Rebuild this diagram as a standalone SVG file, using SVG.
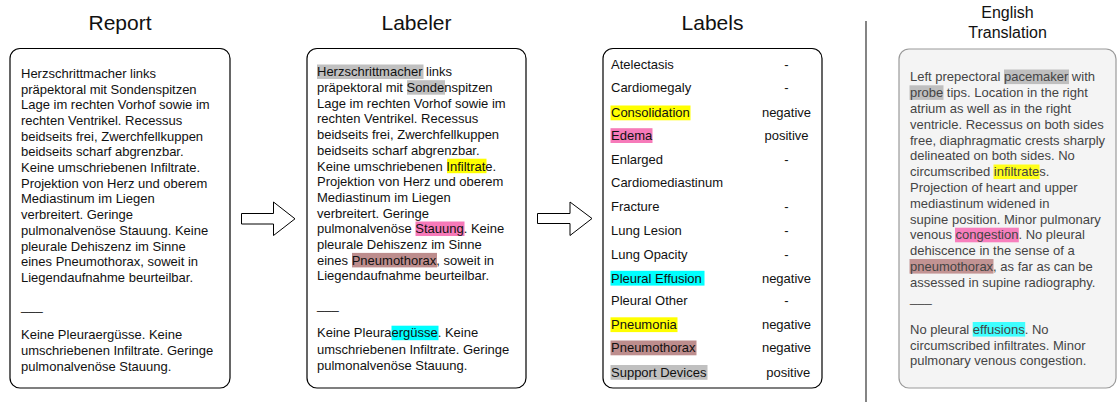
<svg xmlns="http://www.w3.org/2000/svg" width="1117" height="412" viewBox="0 0 1117 412">
  <style>
    .title { font-family: "Liberation Sans", Arial, sans-serif; font-size: 21px; fill: #111; text-anchor: middle; }
    .title2 { font-family: "Liberation Sans", Arial, sans-serif; font-size: 16px; fill: #111; text-anchor: middle; }
    .box { fill: #ffffff; stroke: #000; stroke-width: 1.2; }
    .box-tr { fill: #f4f4f4; stroke: #9a9a9a; stroke-width: 1.2; }
    .t { font-family: "Liberation Sans", Arial, sans-serif; font-size: 13px; fill: #111; }
    .t-tr { font-family: "Liberation Sans", Arial, sans-serif; font-size: 13px; fill: #444; }
    .val { text-anchor: middle; }
    .arrow { fill: #fff; stroke: #000; stroke-width: 1; }
    .hl-gray { fill: #c0c0c0; }
    .hl-yellow { fill: #ffff00; }
    .hl-pink { fill: #f67ab9; }
    .hl-brown { fill: #bd8d8d; }
    .hl-cyan { fill: #00ffff; }
    .tr-gray { fill: #bfbfbf; }
    .tr-yellow { fill: #ffff1a; }
    .tr-pink { fill: #f77fbd; }
    .tr-brown { fill: #c29393; }
    .tr-cyan { fill: #40ffff; }
  </style>

  <!-- column headings -->
  <text class="title" x="120" y="29.5">Report</text>
  <text class="title" x="416.5" y="29.5">Labeler</text>
  <text class="title" x="712.5" y="29.5">Labels</text>
  <text class="title2" x="1007.5" y="18">English</text>
  <text class="title2" x="1007.5" y="37.5">Translation</text>

  <!-- original German report -->
  <g id="report">
    <rect class="box" x="10" y="48.5" width="220" height="339.5" rx="10" ry="10"/>
    <text class="t">
      <tspan x="21" y="77.8">Herzschrittmacher links</tspan>
      <tspan x="21" y="93.5">präpektoral mit Sondenspitzen</tspan>
      <tspan x="21" y="109.2">Lage im rechten Vorhof sowie im</tspan>
      <tspan x="21" y="124.9">rechten Ventrikel. Recessus</tspan>
      <tspan x="21" y="140.6">beidseits frei, Zwerchfellkuppen</tspan>
      <tspan x="21" y="156.3">beidseits scharf abgrenzbar.</tspan>
      <tspan x="21" y="172">Keine umschriebenen Infiltrate.</tspan>
      <tspan x="21" y="187.7">Projektion von Herz und oberem</tspan>
      <tspan x="21" y="203.4">Mediastinum im Liegen</tspan>
      <tspan x="21" y="219.1">verbreitert. Geringe</tspan>
      <tspan x="21" y="234.8">pulmonalvenöse Stauung. Keine</tspan>
      <tspan x="21" y="250.5">pleurale Dehiszenz im Sinne</tspan>
      <tspan x="21" y="266.2">eines Pneumothorax, soweit in</tspan>
      <tspan x="21" y="281.9">Liegendaufnahme beurteilbar.</tspan>
      <tspan x="21" y="310.3">___</tspan>
      <tspan x="21" y="338.8">Keine Pleuraergüsse. Keine</tspan>
      <tspan x="21" y="355">umschriebenen Infiltrate. Geringe</tspan>
      <tspan x="21" y="371.4">pulmonalvenöse Stauung.</tspan>
    </text>
  </g>

  <!-- report with labeled phrases -->
  <g id="labeler">
    <rect class="box" x="307" y="48.5" width="219" height="339.5" rx="10" ry="10"/>
    <rect class="hl-gray" x="317" y="64.5" width="106.5" height="14.5"/>
    <rect class="hl-gray" x="407" y="80.2" width="38" height="14.5"/>
    <rect class="hl-yellow" x="447" y="158.7" width="39.5" height="14.5"/>
    <rect class="hl-pink" x="415.5" y="221.5" width="49" height="14.5"/>
    <rect class="hl-brown" x="352" y="252.9" width="85" height="14.5"/>
    <rect class="hl-cyan" x="391.5" y="325.7" width="47" height="14.5"/>
    <text class="t">
      <tspan x="317" y="76.3">Herzschrittmacher links</tspan>
      <tspan x="317" y="92">präpektoral mit Sondenspitzen</tspan>
      <tspan x="317" y="107.7">Lage im rechten Vorhof sowie im</tspan>
      <tspan x="317" y="123.4">rechten Ventrikel. Recessus</tspan>
      <tspan x="317" y="139.1">beidseits frei, Zwerchfellkuppen</tspan>
      <tspan x="317" y="154.8">beidseits scharf abgrenzbar.</tspan>
      <tspan x="317" y="170.5">Keine umschriebenen Infiltrate.</tspan>
      <tspan x="317" y="186.2">Projektion von Herz und oberem</tspan>
      <tspan x="317" y="201.9">Mediastinum im Liegen</tspan>
      <tspan x="317" y="217.6">verbreitert. Geringe</tspan>
      <tspan x="317" y="233.3">pulmonalvenöse Stauung. Keine</tspan>
      <tspan x="317" y="249">pleurale Dehiszenz im Sinne</tspan>
      <tspan x="317" y="264.7">eines Pneumothorax, soweit in</tspan>
      <tspan x="317" y="280.4">Liegendaufnahme beurteilbar.</tspan>
      <tspan x="317" y="308.8">___</tspan>
      <tspan x="317" y="337.3">Keine Pleuraergüsse. Keine</tspan>
      <tspan x="317" y="353.5">umschriebenen Infiltrate. Geringe</tspan>
      <tspan x="317" y="369.9">pulmonalvenöse Stauung.</tspan>
    </text>
  </g>

  <!-- extracted observation labels -->
  <g id="labels">
    <rect class="box" x="603" y="48.5" width="219" height="339.5" rx="10" ry="10"/>
    <rect class="hl-yellow" x="610.5" y="105.5" width="80" height="14.8"/>
    <rect class="hl-pink" x="610.5" y="128.2" width="42" height="14.8"/>
    <rect class="hl-cyan" x="610.5" y="270.8" width="94" height="14.8"/>
    <rect class="hl-yellow" x="610.5" y="317.3" width="67" height="14.8"/>
    <rect class="hl-brown" x="610.5" y="340.5" width="86" height="14.8"/>
    <rect class="hl-gray" x="610.5" y="365" width="97" height="14.8"/>
    <text class="t">
      <tspan x="611" y="68.5">Atelectasis</tspan>
      <tspan x="611" y="92">Cardiomegaly</tspan>
      <tspan x="611" y="117">Consolidation</tspan>
      <tspan x="611" y="140">Edema</tspan>
      <tspan x="611" y="163.8">Enlarged</tspan>
      <tspan x="611" y="187">Cardiomediastinum</tspan>
      <tspan x="611" y="211">Fracture</tspan>
      <tspan x="611" y="235">Lung Lesion</tspan>
      <tspan x="611" y="258.5">Lung Opacity</tspan>
      <tspan x="611" y="282.5">Pleural Effusion</tspan>
      <tspan x="611" y="305.3">Pleural Other</tspan>
      <tspan x="611" y="329">Pneumonia</tspan>
      <tspan x="611" y="352.3">Pneumothorax</tspan>
      <tspan x="611" y="376.8">Support Devices</tspan>
    </text>
    <text class="t val">
      <tspan x="788.3" y="68.5">-</tspan>
      <tspan x="788.3" y="92">-</tspan>
      <tspan x="788.3" y="117">negative</tspan>
      <tspan x="788.3" y="140">positive</tspan>
      <tspan x="788.3" y="163.8">-</tspan>
      <tspan x="788.3" y="211">-</tspan>
      <tspan x="788.3" y="235">-</tspan>
      <tspan x="788.3" y="258.5">-</tspan>
      <tspan x="788.3" y="282.5">negative</tspan>
      <tspan x="788.3" y="305.3">-</tspan>
      <tspan x="788.3" y="329">negative</tspan>
      <tspan x="788.3" y="352.3">negative</tspan>
      <tspan x="788.3" y="376.8">positive</tspan>
    </text>
  </g>

  <!-- divider before the translation panel -->
  <line x1="866" y1="21" x2="866" y2="402" stroke="#666" stroke-width="1.6"/>

  <!-- English translation of the report -->
  <g id="translation">
    <rect class="box-tr" x="899" y="49" width="217" height="339" rx="10" ry="10"/>
    <rect class="tr-gray" x="1004" y="69.5" width="65" height="14.6"/>
    <rect class="tr-gray" x="909.5" y="85.3" width="34" height="14.6"/>
    <rect class="tr-yellow" x="993.5" y="164.5" width="46" height="14.6"/>
    <rect class="tr-pink" x="955" y="227.7" width="63.8" height="14.6"/>
    <rect class="tr-brown" x="909.5" y="259" width="84" height="14.6"/>
    <rect class="tr-cyan" x="972.7" y="322" width="52.5" height="14.6"/>
    <text class="t-tr">
      <tspan x="910" y="81.3">Left prepectoral pacemaker with</tspan>
      <tspan x="910" y="97.1">probe tips. Location in the right</tspan>
      <tspan x="910" y="112.9">atrium as well as in the right</tspan>
      <tspan x="910" y="128.7">ventricle. Recessus on both sides</tspan>
      <tspan x="910" y="144.5">free, diaphragmatic crests sharply</tspan>
      <tspan x="910" y="160.3">delineated on both sides. No</tspan>
      <tspan x="910" y="176.1">circumscribed infiltrates.</tspan>
      <tspan x="910" y="191.9">Projection of heart and upper</tspan>
      <tspan x="910" y="207.7">mediastinum widened in</tspan>
      <tspan x="910" y="223.5">supine position. Minor pulmonary</tspan>
      <tspan x="910" y="239.3">venous congestion. No pleural</tspan>
      <tspan x="910" y="255.1">dehiscence in the sense of a</tspan>
      <tspan x="910" y="270.9">pneumothorax, as far as can be</tspan>
      <tspan x="910" y="286.7">assessed in supine radiography.</tspan>
      <tspan x="910" y="301.8">___</tspan>
      <tspan x="910" y="333.8">No pleural effusions. No</tspan>
      <tspan x="910" y="349.6">circumscribed infiltrates. Minor</tspan>
      <tspan x="910" y="365.4">pulmonary venous congestion.</tspan>
    </text>
  </g>

  <!-- flow arrows between stages -->
  <g id="connectors">
    <path class="arrow" d="M241.5,213.5 H273.5 V202 L295,218.8 L273.5,235.5 V224 H241.5 Z"/>
    <path class="arrow" d="M537.5,213.5 H570 V202 L592,218.5 L570,235.5 V223.5 H537.5 Z"/>
  </g>
</svg>
